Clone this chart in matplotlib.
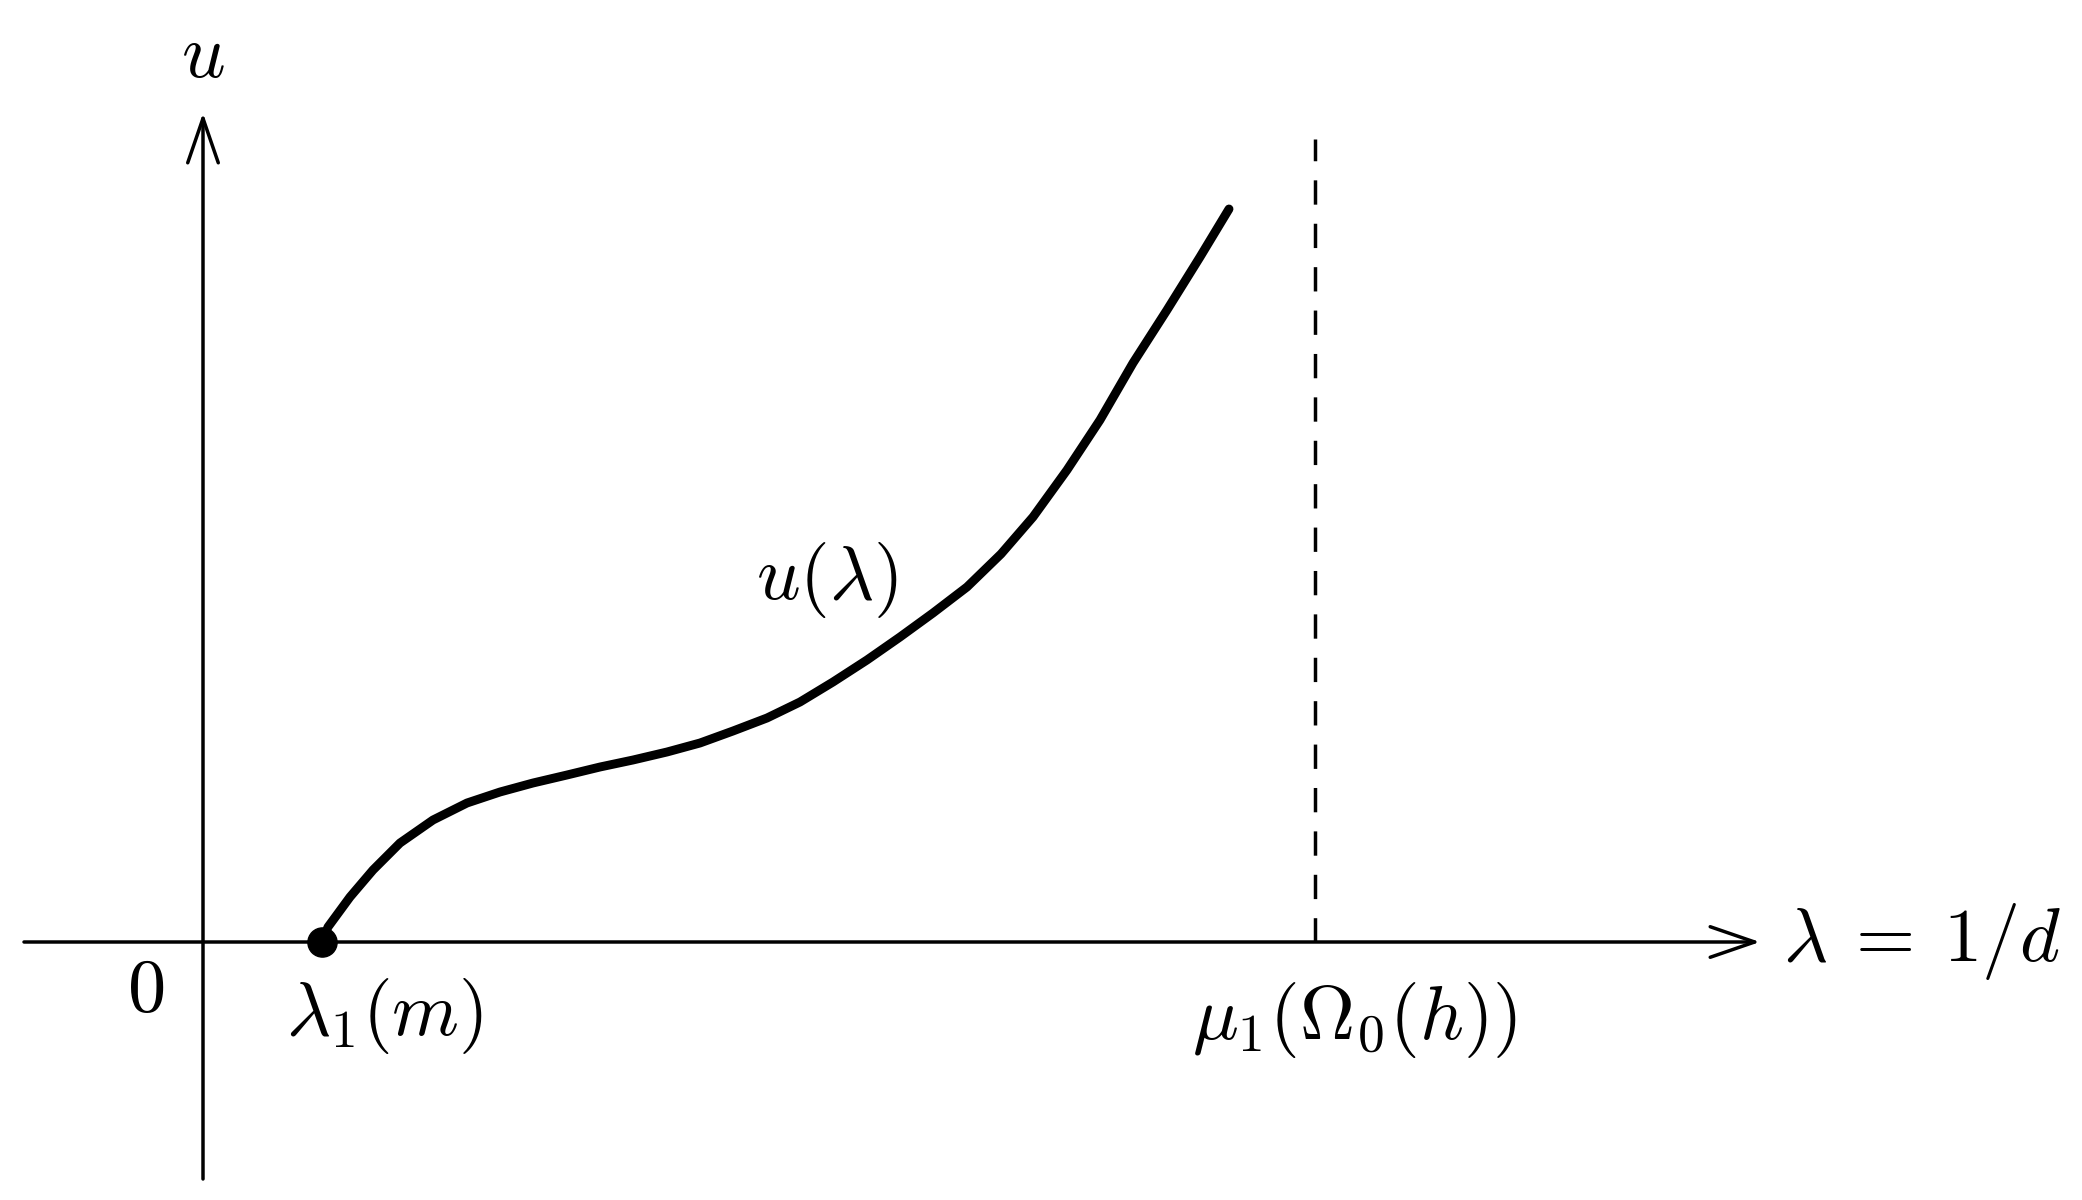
import matplotlib.pyplot as plt

plt.rcParams['mathtext.fontset'] = 'cm'
plt.rcParams['font.family'] = 'serif'

# curve u(lambda) (axis units)
lam = [1.19, 1.25, 1.47, 1.70, 1.97, 2.30, 2.64, 2.97, 3.30, 3.64, 3.97, 4.30,
       4.64, 4.97, 5.30, 5.64, 5.97, 6.30, 6.64, 6.97, 7.30, 7.64, 7.98, 8.30,
       8.64, 8.97, 9.30, 9.64, 9.97, 10.26]
u = [0.00, 0.15, 0.45, 0.72, 0.99, 1.22, 1.39, 1.50, 1.59, 1.67, 1.75, 1.82,
     1.90, 1.99, 2.11, 2.24, 2.40, 2.60, 2.82, 3.05, 3.29, 3.55, 3.88, 4.25,
     4.72, 5.22, 5.79, 6.32, 6.85, 7.33]
lam1 = 1.19
mu1 = 11.12
mu1_top = 8.03

fig = plt.figure(figsize=(20.82, 12), dpi=100)
ax = fig.add_axes([0, 0, 1, 1])
ax.set_xlim(-2.03, 18.79)
ax.set_ylim(-2.58, 9.42)
ax.axis('off')

arrow = dict(arrowstyle='->,head_length=1.6,head_width=0.55', lw=2.5,
             color='black', mutation_scale=20, shrinkA=0, shrinkB=0)
ax.annotate('', xy=(15.57, 0), xytext=(-1.79, 0), arrowprops=arrow)
ax.annotate('', xy=(0, 8.29), xytext=(0, -2.37), arrowprops=arrow)

ax.plot([mu1, mu1], [0, mu1_top], color='black', lw=2.5, dashes=(7, 5.5))
ax.plot(lam, u, color='black', lw=6.4, solid_capstyle='round', solid_joinstyle='round')
ax.plot([lam1], [0], 'o', color='black', ms=21, zorder=5)

fs = 55
ax.text(0, 8.86, r'$u$', fontsize=fs, ha='center', va='center')
ax.text(-0.57, -0.48, r'$0$', fontsize=fs, ha='center', va='center')
ax.text(1.82, -0.74, r'$\lambda_1(m)$', fontsize=fs, ha='center', va='center')
ax.text(11.52, -0.78, r'$\mu_1(\Omega_0(h))$', fontsize=fs, ha='center', va='center')
ax.text(15.80, 0, r'$\lambda\:=\:1/d$', fontsize=fs, ha='left', va='center')
ax.text(6.24, 3.62, r'$u(\lambda)$', fontsize=fs, ha='center', va='center')

fig.savefig('out.png', dpi=100)
